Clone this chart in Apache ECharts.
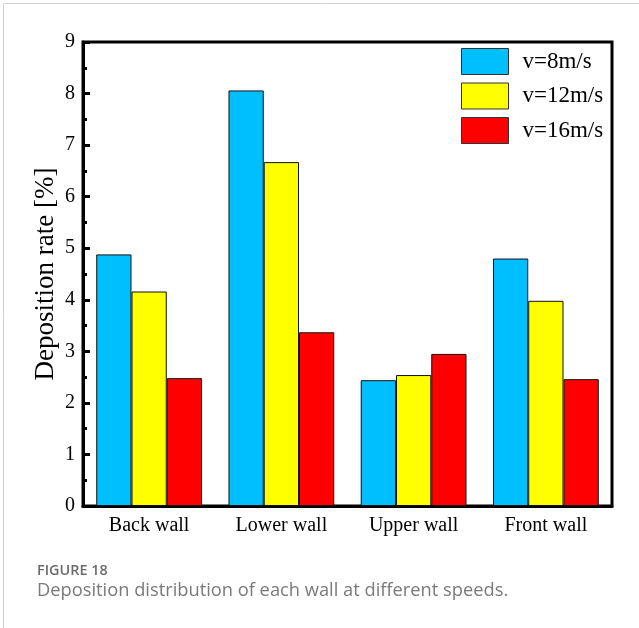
<!DOCTYPE html>
<html><head><meta charset="utf-8">
<script src="https://cdn.jsdelivr.net/npm/echarts@6/dist/echarts.min.js"></script>
<style>html,body{margin:0;padding:0;background:#fff}#c{width:639px;height:628px}</style>
</head><body><div id="c"></div>
<script>
const categories = ['Back wall', 'Lower wall', 'Upper wall', 'Front wall'];
const v8 = [4.88, 8.06, 2.44, 4.80];
const v12 = [4.16, 6.67, 2.54, 3.98];
const v16 = [2.48, 3.37, 2.95, 2.46];
const seriesNames = ['v=8m/s', 'v=12m/s', 'v=16m/s'];
const colors = ['#00BFFF', '#FFFF00', '#FF0000'];
const serif = '"Liberation Serif", "Times New Roman", serif';

const chart = echarts.init(document.getElementById('c'));
const mk = (name, data, color) => ({
  name, type: 'bar', data, barGap: '0%', barCategoryGap: '20%',
  itemStyle: { color, borderColor: '#111', borderWidth: 1 }
});
chart.setOption({
  animation: false,
  grid: { left: 83, top: 42, right: 27, bottom: 122, show: true, borderColor: '#000', borderWidth: 3, backgroundColor: 'transparent' },
  legend: {
    orient: 'vertical', left: 461, top: 48, padding: 0, itemWidth: 47, itemHeight: 26, itemGap: 7.5,
    icon: 'rect',
    itemStyle: { borderColor: '#333', borderWidth: 1 },
    textStyle: { fontFamily: serif, fontSize: 23, color: '#000', padding: [0, 0, 0, 9] },
    data: seriesNames
  },
  xAxis: {
    type: 'category', data: categories,
    axisLine: { lineStyle: { color: '#000', width: 3 } },
    axisTick: { show: false },
    axisLabel: { fontFamily: serif, fontSize: 20, color: '#000', margin: 10 }
  },
  yAxis: {
    type: 'value', min: 0, max: 9, interval: 1,
    name: 'Deposition rate [%]', nameLocation: 'middle', nameGap: 24, nameMoveOverlap: false,
    nameTextStyle: { fontFamily: serif, fontSize: 27, color: '#000' },
    axisLine: { show: true, lineStyle: { color: '#000', width: 3 } },
    axisTick: { show: true, inside: true, length: 7, lineStyle: { width: 3, color: '#000' } },
    minorTick: { show: true, splitNumber: 2, length: 4, lineStyle: { width: 3, color: '#000' } },
    splitLine: { show: false },
    axisLabel: { fontFamily: serif, fontSize: 20, color: '#000', margin: 8 }
  },
  series: [mk(seriesNames[0], v8, colors[0]), mk(seriesNames[1], v12, colors[1]), mk(seriesNames[2], v16, colors[2])],
  graphic: [
    { type: 'rect', shape: { x: 3.5, y: 3.5, width: 640, height: 640 }, style: { fill: 'none', stroke: '#d0d0d0', lineWidth: 1 } },
    { type: 'text', left: 37, top: 564, style: { text: 'FIGURE 18', font: '600 14.4px "Open Sans", sans-serif', fill: '#6b6b6b' } },
    { type: 'text', left: 37, top: 582, style: { text: 'Deposition distribution of each wall at different speeds.', font: '18.3px "Open Sans", sans-serif', fill: '#7a7a7a' } }
  ]
});
</script></body></html>
